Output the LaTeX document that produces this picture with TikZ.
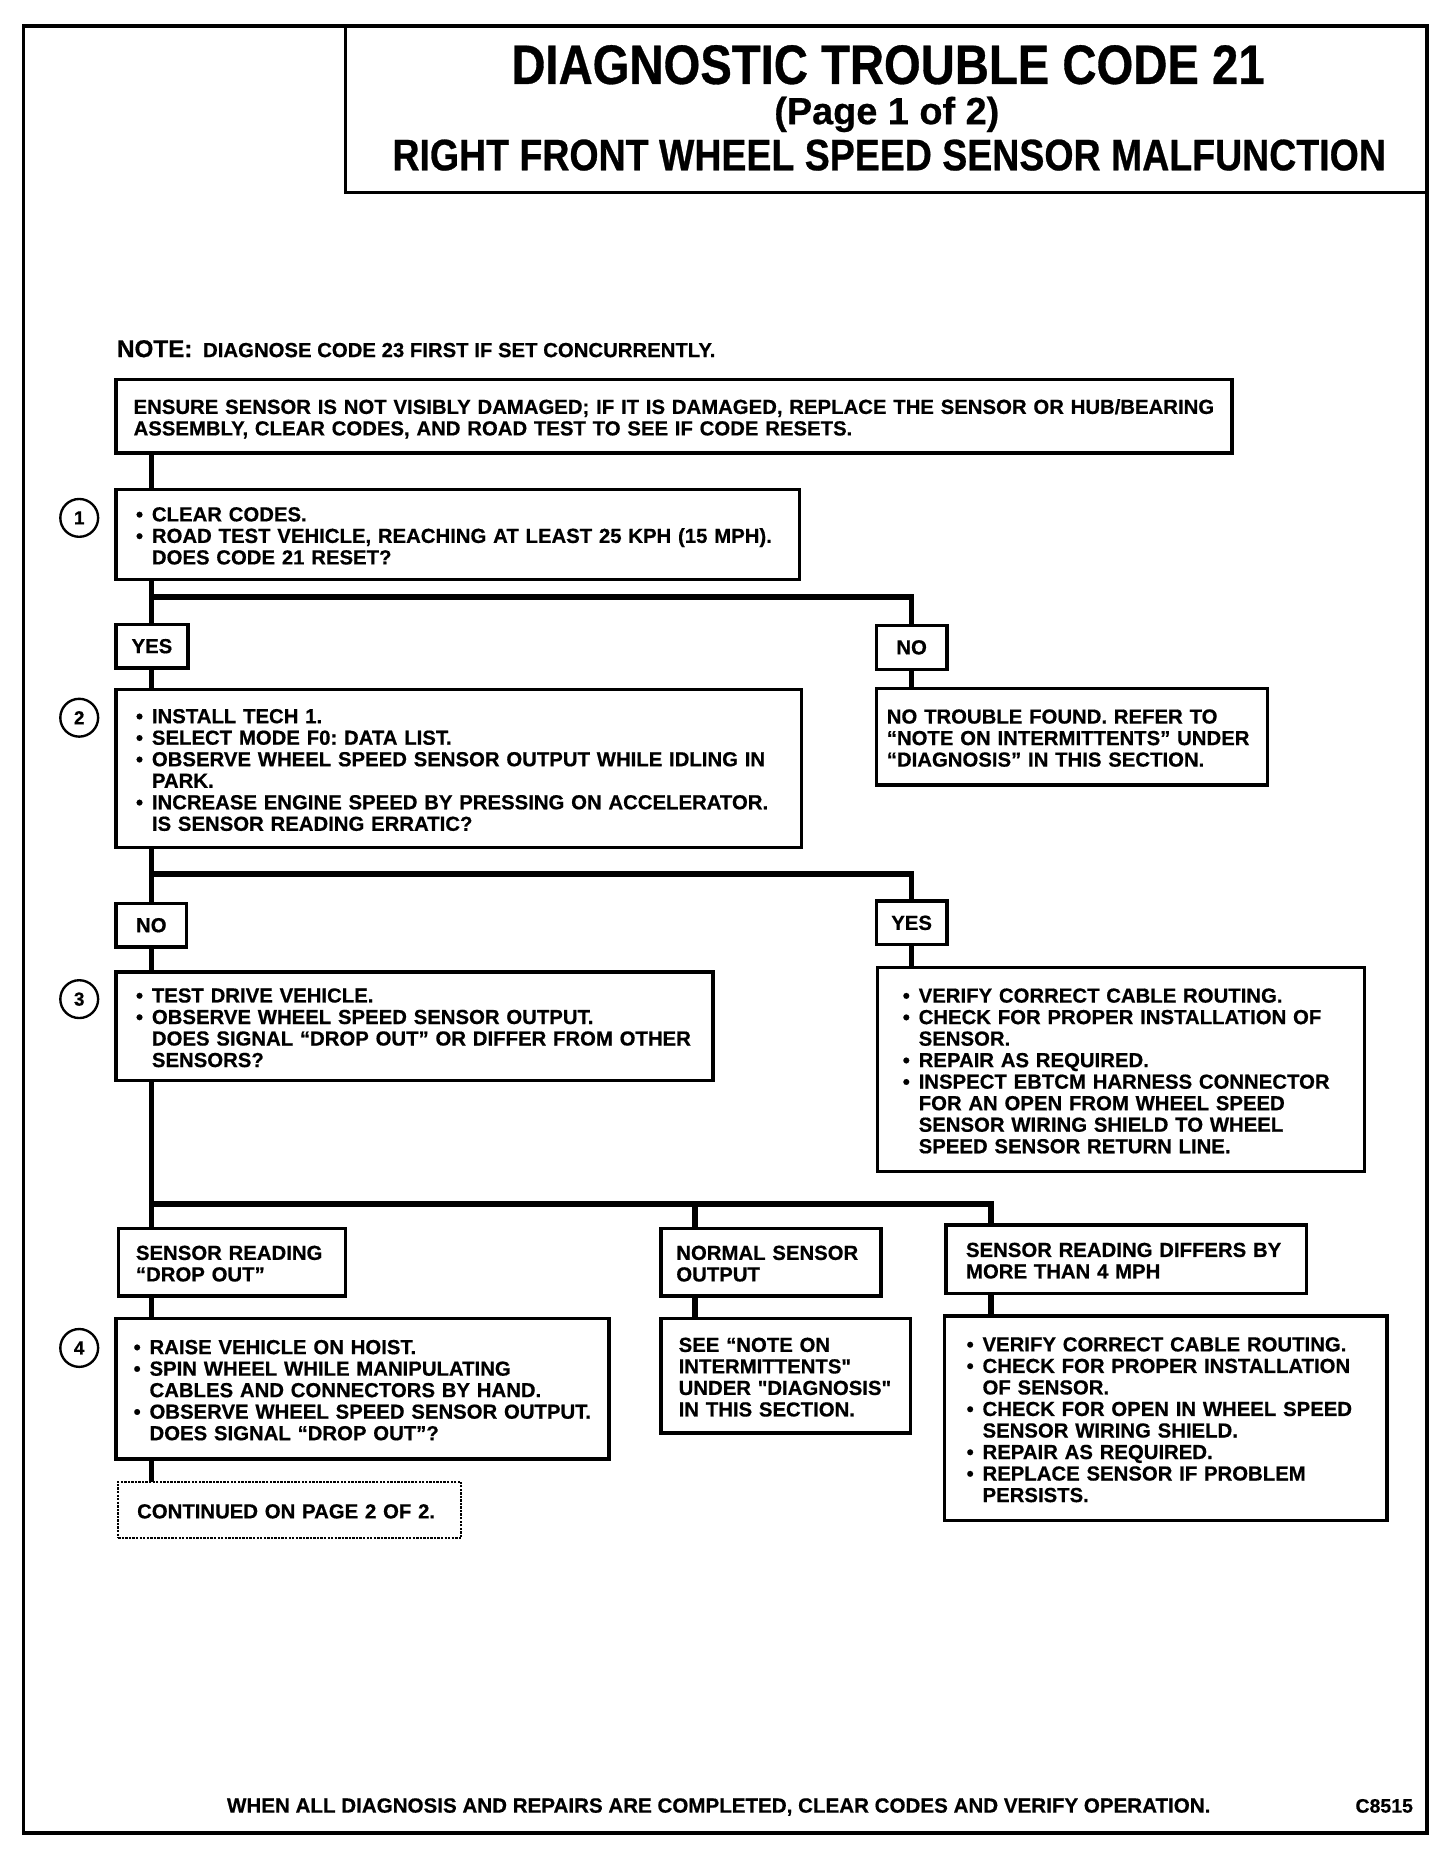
\documentclass[tikz,border=0pt]{standalone}
\usepackage{fontspec}
\setmainfont{Liberation Sans}[BoldFeatures={FakeBold=0.6}]
\newfontfamily\titlefont{Liberation Sans}[FakeStretch=0.85, BoldFeatures={FakeBold=0.6}]
\newcommand\bodyfont{\fontsize{17.2}{18.2}\selectfont\bfseries}
\newcommand\bul{\makebox[13.5pt][l]{•}}
\newcommand\ind{\hspace*{13.5pt}}
\newcommand\lines[1]{\raisebox{-3.5pt}[\height][\depth]{\begin{tabular}{@{}l@{}}#1\end{tabular}}}
\frenchspacing
\tikzset{
  box/.style={draw, line width=2.8pt, anchor=north west, outer sep=0pt, inner ysep=0pt, align=left, font=\bodyfont},
  lab/.style={draw, line width=2.8pt, anchor=north west, outer sep=0pt, inner sep=0pt, align=center, font=\bodyfont},
  wire/.style={line width=4.8pt},
  num/.style={circle, draw, line width=2pt, minimum size=32pt, inner sep=0pt, font=\fontsize{16}{16}\selectfont\bfseries},
  free/.style={inner sep=0pt, outer sep=0pt},
}
\begin{document}
\begin{tikzpicture}[x=1pt, y=-1pt]
\useasboundingbox (0,0) rectangle (1231,1568);
% frame and title
\node[draw, line width=3pt, anchor=north west, minimum width=1187pt, minimum height=1528pt, outer sep=0pt] (frame) at (20,22) {};
\node[draw, line width=2.8pt, anchor=north west, minimum width=915pt, minimum height=141pt, outer sep=0pt] (tb) at (292,22) {};
\node[free, anchor=base, font=\titlefont\fontsize{47}{50}\selectfont\bfseries] (t1) at (751,71) {DIAGNOSTIC TROUBLE CODE 21};
\node[free, anchor=base, font=\fontsize{32}{35}\selectfont\bfseries] (t2) at (750,105) {(Page 1 of 2)};
\node[free, anchor=base, font=\titlefont\fontsize{37.3}{40}\selectfont\bfseries] (t3) at (752,144) {RIGHT FRONT WHEEL SPEED SENSOR MALFUNCTION};
% note
\node[free, anchor=base west] (note) at (99,302) {{\fontsize{20.5}{22}\selectfont\bfseries NOTE:}\hspace{9pt}{\bodyfont DIAGNOSE CODE 23 FIRST IF SET CONCURRENTLY.}};
% boxes
\node[box, minimum width=944pt, minimum height=62pt, text width=914pt, inner xsep=15pt] (b0) at (98,321)
  {\lines{ENSURE SENSOR IS NOT VISIBLY DAMAGED; IF IT IS DAMAGED, REPLACE THE SENSOR OR HUB/BEARING\\ASSEMBLY, CLEAR CODES, AND ROAD TEST TO SEE IF CODE RESETS.}};
\node[box, minimum width=578pt, minimum height=76pt, text width=544pt, inner xsep=17pt] (b1) at (98,414)
  {\lines{\bul CLEAR CODES.\\\bul ROAD TEST VEHICLE, REACHING AT LEAST 25 KPH (15 MPH).\\\ind DOES CODE 21 RESET?}};
\node[lab, minimum width=61pt, minimum height=37pt] (y1) at (98,528) {YES};
\node[lab, minimum width=60pt, minimum height=37pt] (n1) at (741,529) {NO};
\node[box, minimum width=580pt, minimum height=134pt, text width=546pt, inner xsep=17pt] (b2) at (98,583)
  {\lines{\bul INSTALL TECH 1.\\\bul SELECT MODE F0: DATA LIST.\\\bul OBSERVE WHEEL SPEED SENSOR OUTPUT WHILE IDLING IN\\\ind PARK.\\\bul INCREASE ENGINE SPEED BY PRESSING ON ACCELERATOR.\\\ind IS SENSOR READING ERRATIC?}};
\node[box, minimum width=331pt, minimum height=82pt, text width=313pt, inner xsep=9pt] (ntf) at (741,582)
  {\lines{NO TROUBLE FOUND. REFER TO\\“NOTE ON INTERMITTENTS” UNDER\\“DIAGNOSIS” IN THIS SECTION.}};
\node[lab, minimum width=60pt, minimum height=37pt] (n2) at (98,764) {NO};
\node[lab, minimum width=60pt, minimum height=37pt] (y2) at (741,762) {YES};
\node[box, minimum width=505pt, minimum height=92pt, text width=471pt, inner xsep=17pt] (b3) at (98,822)
  {\lines{\bul TEST DRIVE VEHICLE.\\\bul OBSERVE WHEEL SPEED SENSOR OUTPUT.\\\ind DOES SIGNAL “DROP OUT” OR DIFFER FROM OTHER\\\ind SENSORS?}};
\node[box, minimum width=412pt, minimum height=173pt, text width=369pt, inner xsep=21.5pt] (yr) at (742,818)
  {\lines{\bul VERIFY CORRECT CABLE ROUTING.\\\bul CHECK FOR PROPER INSTALLATION OF\\\ind SENSOR.\\\bul REPAIR AS REQUIRED.\\\bul INSPECT EBTCM HARNESS CONNECTOR\\\ind FOR AN OPEN FROM WHEEL SPEED\\\ind SENSOR WIRING SHIELD TO WHEEL\\\ind SPEED SENSOR RETURN LINE.}};
\node[box, minimum width=192pt, minimum height=57pt, text width=162pt, inner xsep=15pt] (o1) at (100,1039)
  {\lines{SENSOR READING\\“DROP OUT”}};
\node[box, minimum width=186pt, minimum height=57pt, text width=160pt, inner xsep=13pt] (o2) at (559,1039)
  {\lines{NORMAL SENSOR\\OUTPUT}};
\node[box, minimum width=305pt, minimum height=58pt, text width=271pt, inner xsep=17pt] (o3) at (800,1036)
  {\lines{SENSOR READING DIFFERS BY\\MORE THAN 4 MPH}};
\node[box, minimum width=417pt, minimum height=119pt, text width=387pt, inner xsep=15pt] (b4) at (98,1115)
  {\lines{\bul RAISE VEHICLE ON HOIST.\\\bul SPIN WHEEL WHILE MANIPULATING\\\ind CABLES AND CONNECTORS BY HAND.\\\bul OBSERVE WHEEL SPEED SENSOR OUTPUT.\\\ind DOES SIGNAL “DROP OUT”?}};
\node[box, minimum width=211pt, minimum height=97pt, text width=181pt, inner xsep=15pt] (see) at (559,1115)
  {\lines{SEE “NOTE ON\\INTERMITTENTS\textquotedbl\\UNDER \textquotedbl DIAGNOSIS\textquotedbl\\IN THIS SECTION.}};
\node[box, minimum width=374pt, minimum height=173pt, text width=337pt, inner xsep=18.5pt] (rb) at (799,1113)
  {\lines{\bul VERIFY CORRECT CABLE ROUTING.\\\bul CHECK FOR PROPER INSTALLATION\\\ind OF SENSOR.\\\bul CHECK FOR OPEN IN WHEEL SPEED\\\ind SENSOR WIRING SHIELD.\\\bul REPAIR AS REQUIRED.\\\bul REPLACE SENSOR IF PROBLEM\\\ind PERSISTS.}};
\node[box, line width=1.6pt, dash pattern=on 2pt off 1pt, minimum width=290pt, minimum height=48pt, text width=258pt, inner xsep=16pt] (cont) at (100,1253)
  {\lines{CONTINUED ON PAGE 2 OF 2.}};
% step numbers
\node[num] (c1) at (67,438) {1};
\node[num] (c2) at (67,607) {2};
\node[num] (c3) at (67,845) {3};
\node[num] (c4) at (67,1140) {4};
% connectors
\coordinate (tx) at (128,0);
\coordinate (h1) at (128,505);
\coordinate (h2) at (128,739);
\coordinate (h3) at (128,1018);
\coordinate (v2) at (588,1018);
\coordinate (v3) at (838,1018);
\draw[wire] (b0.south -| tx) -- (b1.north -| tx);
\draw[wire] (b1.south -| tx) -- (y1.north -| tx);
\draw[wire] (y1.south -| tx) -- (b2.north -| tx);
\draw[wire] (b2.south -| tx) -- (n2.north -| tx);
\draw[wire] (n2.south -| tx) -- (b3.north -| tx);
\draw[wire] (b3.south -| tx) -- (o1.north -| tx);
\draw[wire] (o1.south -| tx) -- (b4.north -| tx);
\draw[wire] (b4.south -| tx) -- (cont.north -| tx);
\draw[wire] (h1) -| (n1.north);
\draw[wire] (n1.south) -- (n1.south |- ntf.north);
\draw[wire] (h2) -| (y2.north);
\draw[wire] (y2.south) -- (y2.south |- yr.north);
\draw[wire] (h3) -- (v3) -- (v3 |- o3.north);
\draw[wire] (v2) -- (v2 |- o2.north);
\draw[wire] (v2 |- o2.south) -- (v2 |- see.north);
\draw[wire] (v3 |- o3.south) -- (v3 |- rb.north);
% footer
\node[free, anchor=base west, font=\fontsize{17.4}{18.2}\selectfont\bfseries] (foot) at (192,1533) {WHEN ALL DIAGNOSIS AND REPAIRS ARE COMPLETED, CLEAR CODES AND VERIFY OPERATION.};
\node[free, anchor=base east, font=\fontsize{16.5}{18}\selectfont\bfseries] (code) at (1195,1533) {C8515};
\end{tikzpicture}
\end{document}
